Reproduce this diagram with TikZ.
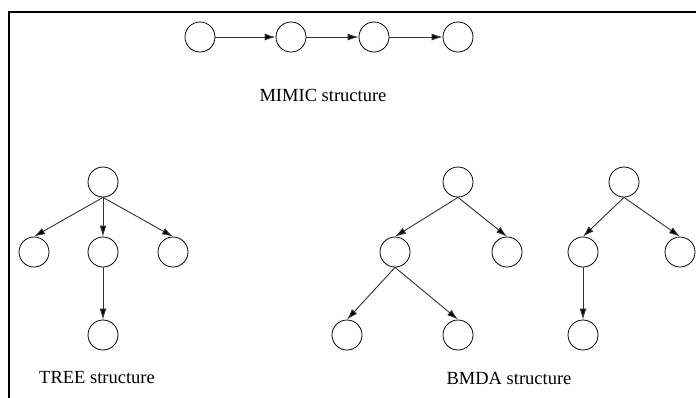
\documentclass[tikz,border=0pt]{standalone}
\usepackage{fontspec}
\setmainfont{Liberation Serif}
\usetikzlibrary{arrows.meta}
\tikzset{
  vnode/.style={circle,draw=black,line width=0.8pt,minimum size=30pt,inner sep=0pt},
  arr/.style={draw=black!80,line width=0.9pt,-{Latex[length=11pt,width=7pt,fill=black]}},
  frameline/.style={draw=black,line width=2.6pt},
  lbl/.style={font=\fontsize{18.5}{20}\selectfont,inner sep=0pt}
}
\begin{document}
\begin{tikzpicture}[x=1pt,y=-1pt]
\useasboundingbox (0,0) rectangle (696,397);
% frame
\coordinate (fbl) at (9,405);
\coordinate (ftl) at (9,12);
\coordinate (ftr) at (705,12);
\draw[frameline] (fbl) -- (ftl) -- (ftr);
% MIMIC
\node[vnode] (m1) at (200,37) {};
\node[vnode] (m2) at (291,37) {};
\node[vnode] (m3) at (374,37) {};
\node[vnode] (m4) at (458,37) {};
\draw[arr] (m1.east) -- (m2.west);
\draw[arr] (m2.east) -- (m3.west);
\draw[arr] (m3.east) -- (m4.west);
\node[lbl] (lm) at (323,95) {MIMIC structure};
% TREE
\node[vnode] (t0) at (103,182) {};
\node[vnode] (t1) at (34,252) {};
\node[vnode] (t2) at (103,252) {};
\node[vnode] (t3) at (173,252) {};
\node[vnode] (t4) at (103,335) {};
\draw[arr] (t0.south) -- (t1.north);
\draw[arr] (t0.south) -- (t2.north);
\draw[arr] (t0.south) -- (t3.north);
\draw[arr] (t2.south) -- (t4.north);
\node[lbl] (lt) at (97,378) {TREE structure};
% BMDA first
\node[vnode] (b0) at (458,182) {};
\node[vnode] (b1) at (395,252) {};
\node[vnode] (b2) at (507,252) {};
\node[vnode] (b3) at (347,335) {};
\node[vnode] (b4) at (458,335) {};
\draw[arr] (b0.south) -- (b1.north);
\draw[arr] (b0.south) -- (b2.north);
\draw[arr] (b1.south) -- (b3.north);
\draw[arr] (b1.south) -- (b4.north);
% BMDA second
\node[vnode] (c0) at (624,182) {};
\node[vnode] (c1) at (583,252) {};
\node[vnode] (c2) at (680,252) {};
\node[vnode] (c3) at (583,335) {};
\draw[arr] (c0.south) -- (c1.north);
\draw[arr] (c0.south) -- (c2.north);
\draw[arr] (c1.south) -- (c3.north);
\node[lbl] (lb) at (509,378) {BMDA structure};
\end{tikzpicture}
\end{document}
